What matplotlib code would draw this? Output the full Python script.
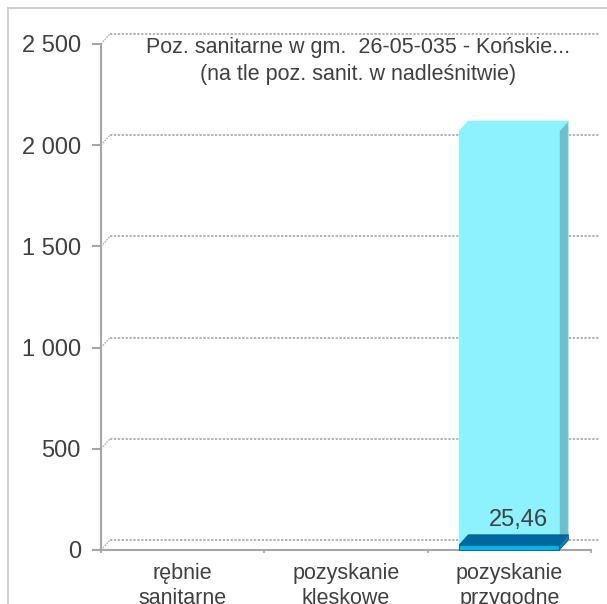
import matplotlib.pyplot as plt
from matplotlib.patches import Polygon
from matplotlib.lines import Line2D

plt.rcParams['font.family'] = ['Liberation Sans', 'DejaVu Sans']

# data
categories = ['rębnie\nsanitarne', 'pozyskanie\nklęskowe', 'pozyskanie\nprzygodne']
nadl_values = [0, 0, 2070]        # background series (nadleśnictwo)
gmina_values = [0, 0, 25.46]      # front series (gmina)
yticks = [0, 500, 1000, 1500, 2000, 2500]
ytick_labels = ['0', '500', '1 000', '1 500', '2 000', '2 500']
title = 'Poz. sanitarne w gm.  26-05-035 - Końskie...\n(na tle poz. sanit. w nadleśnitwie)'

W, H = 607, 604
fig = plt.figure(figsize=(W / 100, H / 100), dpi=100)
ax = fig.add_axes([101 / W, 54 / H, 490 / W, 506 / H])
ax.set_xlim(0, 3)
ax.set_ylim(0, 2500)

# 3d depth offset in data units
dx = 9 / 490 * 3
dy = 10 / 506 * 2500
grid_col = '#B4B4B4'
axis_col = '#A6A6A6'
text_col = '#404040'

# back wall grid lines + connectors
for v in yticks:
    ax.plot([dx, 3 + dx], [v + dy, v + dy], color=grid_col, lw=1.4,
            ls=(0, (1.2, 0.8)), clip_on=False, zorder=1)
    ax.plot([0, dx], [v, v + dy], color=grid_col, lw=1.0,
            ls=(0, (1.2, 0.8)), clip_on=False, zorder=1)


def bar3d(x, v, width, front, top, side, edge):
    x0, x1 = x - width / 2, x + width / 2
    ax.bar(x, v, width=width, color=front, edgecolor=edge, lw=0.6,
           clip_on=False, zorder=3)
    ax.add_patch(Polygon([(x0, v), (x1, v), (x1 + dx, v + dy), (x0 + dx, v + dy)],
                         closed=True, fc=top, ec=edge, lw=0.6, clip_on=False, zorder=3))
    ax.add_patch(Polygon([(x1, 0), (x1 + dx, dy), (x1 + dx, v + dy), (x1, v)],
                         closed=True, fc=side, ec=edge, lw=0.6, clip_on=False, zorder=3))


bw = 0.612
for i, v in enumerate(nadl_values):
    if v > 0:
        bar3d(i + 0.5, v, bw, '#8DF1FE', '#8DF1FE', '#6DBFCB', '#8DF1FE')
for i, v in enumerate(gmina_values):
    if v > 0:
        bar3d(i + 0.5, v, bw, '#00B4F2', '#00689E', '#0088BB', '#005A8A')
        ax.text(i + 0.5 + dx, v + 122, f'{v:.2f}'.replace('.', ','),
                ha='center', va='center', fontsize=17, color=text_col, zorder=5)

# axes
for s in ['top', 'right']:
    ax.spines[s].set_visible(False)
for s in ['left', 'bottom']:
    ax.spines[s].set_color(axis_col)
    ax.spines[s].set_linewidth(1.5)
ax.set_yticks(yticks)
ax.set_yticklabels(ytick_labels)
ax.tick_params(axis='y', length=6.5, width=1.5, color=axis_col, pad=8,
               labelsize=17, labelcolor=text_col)
ax.set_xticks([0, 1, 2, 3])
ax.set_xticklabels([])
ax.tick_params(axis='x', which='major', length=2.5, width=1.2, color=axis_col)
ax.set_xticks([0.5, 1.5, 2.5], minor=True)
ax.set_xticklabels(categories, minor=True)
ax.tick_params(axis='x', which='minor', length=0, pad=9, labelsize=15.5,
               labelcolor=text_col)
for lab, shift in zip(ax.get_xticklabels(minor=True), [0.04, 0.0, 0.04]):
    lab.set_linespacing(1.3)

fig.text(358 / W, 1 - 61 / H, title, ha='center', va='center', fontsize=15.5,
         color=text_col, linespacing=1.4)

# outer frame (left and top edges)
fig.add_artist(Line2D([8 / W, 8 / W], [0, 1 - 8 / H], color='#C8C8C8', lw=1.2))
fig.add_artist(Line2D([8 / W, 1], [1 - 8 / H, 1 - 8 / H], color='#C8C8C8', lw=1.2))

fig.savefig('out.png', dpi=100)
